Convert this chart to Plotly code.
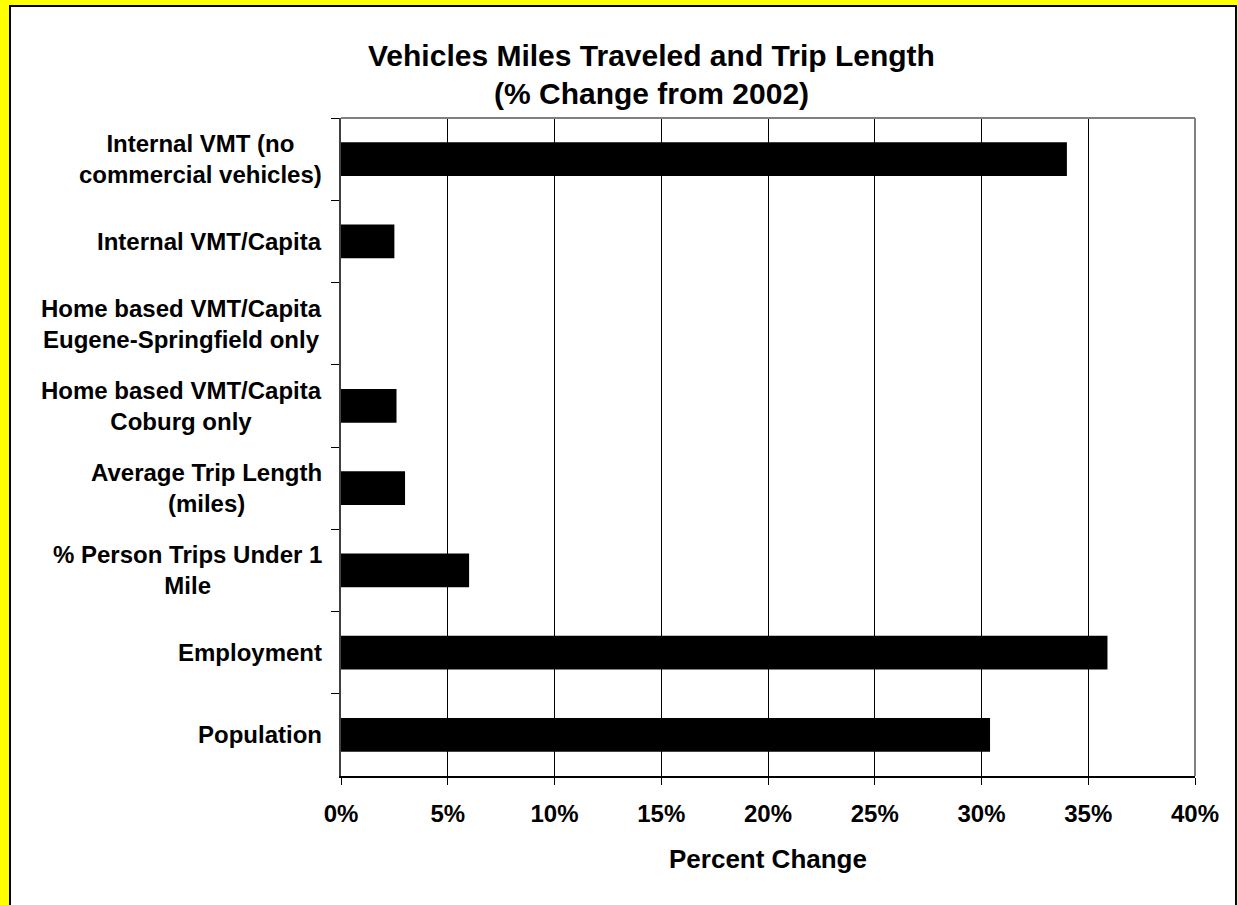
import plotly.graph_objects as go

# ---- data ----
categories = [
    "Internal VMT (no<br>commercial vehicles)",
    "Internal VMT/Capita",
    "Home based VMT/Capita<br>Eugene-Springfield only",
    "Home based VMT/Capita<br>Coburg only",
    "Average Trip Length<br>(miles)",
    "% Person Trips Under 1<br>Mile",
    "Employment",
    "Population",
]
pct_change = [34.0, 2.5, 0.0, 2.6, 3.0, 6.0, 35.9, 30.4]
x_ticks = [0, 5, 10, 15, 20, 25, 30, 35, 40]
x_tick_labels = [f"{v}%" for v in x_ticks]
title_lines = ["Vehicles Miles Traveled and Trip Length", "(% Change from 2002)"]
x_title = "Percent Change"

W, H = 1238, 905
L, R, T, B = 341, 1238 - 1195, 118, 905 - 776
PW, PH = W - L - R, H - T - B

def px_x(px):
    return (px - L) / PW

def px_y(py):
    return (H - B - py) / PH

FONT = "Liberation Sans, Arial, sans-serif"

fig = go.Figure()
fig.add_trace(go.Bar(
    y=categories, x=pct_change, orientation="h",
    marker=dict(color="#000000", line=dict(width=0)),
    hoverinfo="x+y",
))

fig.update_layout(
    width=W, height=H,
    margin=dict(l=L, r=R, t=T, b=B, pad=0),
    paper_bgcolor="#FFFF00",
    plot_bgcolor="#FFFFFF",
    bargap=0.587,
    showlegend=False,
    font=dict(family=FONT, color="#000000"),
)

fig.update_xaxes(
    range=[0, 40], tickvals=x_ticks, ticktext=x_tick_labels,
    showgrid=True, gridcolor="#000000", gridwidth=1,
    zeroline=False, showline=True, linecolor="#000000", linewidth=1.5,
    ticks="outside", ticklen=7, tickcolor="#000000", tickwidth=1,
    tickfont=dict(family=FONT, size=24, weight="bold", color="#000000"),
    ticklabelstandoff=8,
    title=dict(text=x_title, font=dict(family=FONT, size=26, weight="bold", color="#000000"), standoff=24),
)
fig.update_yaxes(
    type="category", categoryorder="array", categoryarray=categories,
    autorange="reversed",
    showgrid=False, zeroline=False,
    showline=True, linecolor="#404040", linewidth=1.5,
    ticks="outside", tickson="boundaries", ticklen=8, tickcolor="#000000", tickwidth=1,
    showticklabels=False,
)

shapes = [
    # white chart area with black outline on yellow border
    dict(type="rect", xref="paper", yref="paper",
         x0=px_x(10), x1=px_x(1236), y0=px_y(912), y1=px_y(6),
         fillcolor="#FFFFFF", line=dict(color="#000000", width=2), layer="below"),
    # plot area top / right border (gray)
    dict(type="line", xref="paper", yref="paper", x0=0, x1=1, y0=1, y1=1,
         line=dict(color="#808080", width=2), layer="above"),
    dict(type="line", xref="paper", yref="paper", x0=1, x1=1, y0=0, y1=1,
         line=dict(color="#808080", width=2), layer="above"),
]
fig.update_layout(shapes=shapes)

annotations = []
for cat in categories:
    annotations.append(dict(
        text=cat, x=0, xref="paper", y=cat, yref="y",
        xanchor="right", yanchor="middle", xshift=-17, align="center",
        showarrow=False,
        font=dict(family=FONT, size=24, weight="bold", color="#000000"),
    ))
for line, py in zip(title_lines, [55, 93]):
    annotations.append(dict(
        text=line, x=px_x(651), xref="paper", y=px_y(py), yref="paper",
        xanchor="center", yanchor="middle", showarrow=False,
        font=dict(family=FONT, size=30, weight="bold", color="#000000"),
    ))
fig.update_layout(annotations=annotations)

fig.write_html(
    "out.html",
    config={"displayModeBar": False},
    post_script="document.body.style.margin='0px';document.documentElement.style.overflow='hidden';",
)
